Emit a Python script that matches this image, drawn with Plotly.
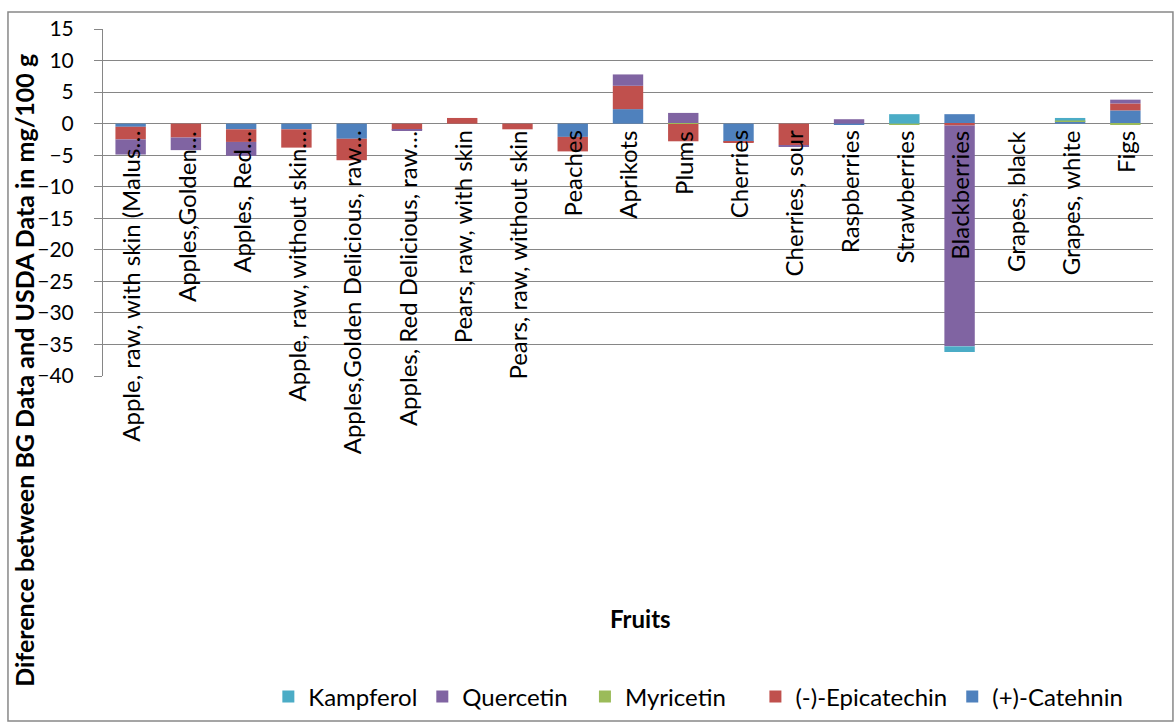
import plotly.graph_objects as go

# Fruit categories (labels as shown on the category axis)
fruits = [
    "Apple, raw, with skin (Malus…", "Apples,Golden…", "Apples, Red…",
    "Apple, raw, without skin…", "Apples,Golden Delicious, raw…",
    "Apples, Red Delicious, raw…", "Pears, raw, with skin",
    "Pears, raw, without skin", "Peaches", "Aprikots", "Plums", "Cherries",
    "Cherries, sour", "Raspberries", "Strawberries", "Blackberries",
    "Grapes, black", "Grapes, white", "Figs",
]

# Difference BG - USDA (mg/100 g) per flavonoid
catechin = [-0.5, 0.0, -0.9, -0.9, -2.4, 0.0, 0.0, 0.0, -2.1, 2.3,
            0.0, -2.9, 0.0, -0.2, 0.0, 1.5, 0.0, 0.4, 2.1]
epicatechin = [-2.0, -2.2, -2.0, -2.9, -3.4, -1.0, 0.9, -0.9, -2.3, 3.7,
               -2.8, -0.1, -3.4, 0.0, 0.0, -0.3, 0.0, 0.0, 1.1]
myricetin = [0.0, 0.0, 0.0, 0.0, 0.0, 0.0, 0.0, 0.0, 0.0, 0.0,
             0.1, 0.0, 0.0, 0.0, -0.2, 0.0, 0.0, 0.1, -0.2]
quercetin = [-2.4, -2.0, -2.2, 0.0, 0.0, -0.1, 0.0, 0.0, 0.0, 1.8,
             1.6, 0.0, -0.2, 0.7, 0.0, -35.0, 0.0, 0.0, 0.6]
kampferol = [0.0, 0.0, 0.0, 0.0, 0.0, 0.0, 0.0, 0.0, 0.0, 0.0,
             0.0, 0.0, 0.0, 0.0, 1.5, -0.9, 0.0, 0.4, 0.0]

NBSP = "\u00a0"
series = [
    ("(+)-Catehnin", catechin, "#4F81BD"),
    ("(-)-Epicatechin", epicatechin, "#C0504D"),
    ("Myricetin" + NBSP * 4, myricetin, "#9BBB59"),
    ("Quercetin" + NBSP * 2, quercetin, "#8064A2"),
    ("Kampferol", kampferol, "#4BACC6"),
]

FONT = "Lato"
GRID = "#868686"

fig = go.Figure()
for name, vals, color in series:
    fig.add_trace(go.Bar(x=fruits, y=vals, name=name, marker_color=color,
                         marker_line_width=0))

# Category labels sit just under the zero line, reading upward
annotations = [
    dict(x=f, y=0, xref="x", yref="y", text=f, textangle=-90,
         showarrow=False, xanchor="center", yanchor="top", yshift=-5,
         font=dict(family=FONT, size=24, color="#000"))
    for f in fruits
]
annotations.append(dict(
    x=-0.0755, y=0.017, xref="paper", yref="paper", showarrow=False,
    text="<b>Diference between BG Data and USDA Data in mg/100 g</b>",
    textangle=-90, xanchor="center", yanchor="middle",
    font=dict(family=FONT, size=25, color="#000")))
annotations.append(dict(
    x=0.512, y=-0.70, xref="paper", yref="paper", showarrow=False,
    text="<b>Fruits</b>", xanchor="center", yanchor="middle",
    font=dict(family=FONT, size=24, color="#000")))

fig.update_layout(
    width=1174, height=722,
    margin=dict(l=103, r=21, t=29, b=346, autoexpand=False),
    barmode="relative", bargap=0.45,
    plot_bgcolor="white", paper_bgcolor="white",
    font=dict(family=FONT, size=24, color="#000"),
    showlegend=True,
    legend=dict(orientation="h", traceorder="reversed", x=0.567, y=-0.925,
                xanchor="center", yanchor="middle",
                font=dict(family=FONT, size=24)),
    annotations=annotations,
    shapes=[dict(type="rect", xref="paper", yref="paper",
                 x0=-0.0905, x1=1.019, y0=-0.994, y1=1.049,
                 line=dict(color="#888888", width=1.5))],
    xaxis=dict(showticklabels=False, showgrid=False, showline=False,
               ticks=""),
    yaxis=dict(range=[-40, 15], dtick=5, tick0=0, showgrid=True,
               gridcolor=GRID, gridwidth=1, zeroline=True, zerolinecolor=GRID,
               zerolinewidth=1, showline=True, linecolor=GRID, linewidth=1,
               ticks="outside", ticklen=8, tickcolor=GRID,
               ticklabelstandoff=16, tickfont=dict(family=FONT, size=21)),
)

fig.write_html("out.html")
